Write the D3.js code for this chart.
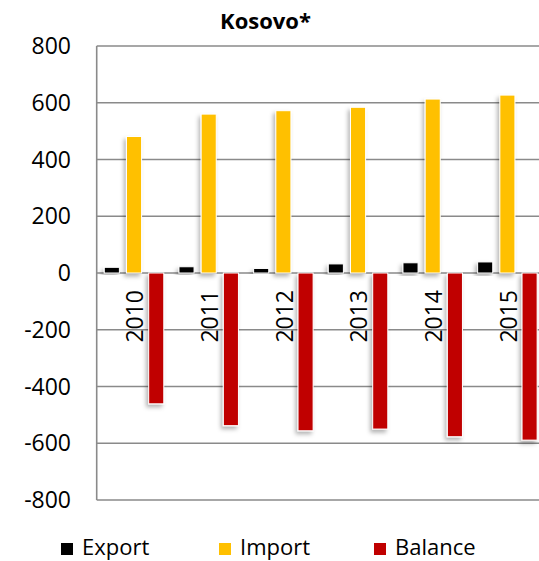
<!DOCTYPE html>
<html>
<head>
<meta charset="utf-8">
<script src="https://cdn.jsdelivr.net/npm/d3@7"></script>
<style>
  body { margin: 0; background: #fff; }
  text { font-family: "Open Sans", "Liberation Sans", sans-serif; fill: #000; }
</style>
</head>
<body>
<div id="chart-area"></div>
<script>

var years = ["2010", "2011", "2012", "2013", "2014", "2015"];
var seriesNames = ["Export", "Import", "Balance"];
var seriesColors = ["#000000", "#FFC000", "#C00000"];
var exportVals = [20, 22, 16, 32, 36, 39];
var importVals = [481, 560, 572, 584, 613, 627];
var balanceVals = [-461, -538, -556, -550, -577, -589];
var yTicks = [-800, -600, -400, -200, 0, 200, 400, 600, 800];

var seriesVals = [exportVals, importVals, balanceVals];

var width = 539, height = 561;
var plotLeft = 96.7, step = 74.67;

var svg = d3.select("#chart-area")
    .append("svg")
        .attr("width", width)
        .attr("height", height);

// soft shadow used on the bars
var defs = svg.append("defs");
var f = defs.append("filter").attr("id", "shadow")
    .attr("x", "-50%").attr("y", "-20%").attr("width", "200%").attr("height", "140%");
f.append("feDropShadow")
    .attr("dx", -2).attr("dy", 3).attr("stdDeviation", 2)
    .attr("flood-color", "#000").attr("flood-opacity", 0.3);

var x0 = d3.scaleBand()
    .domain(years)
    .range([plotLeft, plotLeft + step * years.length]);

var x1 = d3.scaleBand()
    .domain(seriesNames)
    .range([-33.3, 33.3])
    .paddingInner(0.32)
    .paddingOuter(0.16);

var yScale = d3.scaleLinear().domain([-800, 800]).range([500, 46]);

// gridlines
svg.append("g").selectAll("line")
    .data(yTicks)
    .enter().append("line")
        .attr("x1", plotLeft)
        .attr("x2", x0.range()[1])
        .attr("y1", function(d) { return yScale(d); })
        .attr("y2", function(d) { return yScale(d); })
        .attr("stroke", "#8a8a8a")
        .attr("stroke-width", 1.6);

svg.append("line")
    .attr("x1", plotLeft).attr("x2", plotLeft)
    .attr("y1", yScale(800)).attr("y2", yScale(-800))
    .attr("stroke", "#8a8a8a")
    .attr("stroke-width", 1.6);

// y tick labels
svg.append("g").selectAll("text")
    .data(yTicks)
    .enter().append("text")
        .attr("x", 71)
        .attr("y", function(d) { return yScale(d); })
        .attr("dy", "0.35em")
        .attr("text-anchor", "end")
        .style("font-size", "23px")
        .text(function(d) { return d; });

// bars
var groups = svg.append("g").selectAll("g")
    .data(years)
    .enter().append("g")
        .attr("transform", function(d) { return "translate(" + (x0(d) + x0.bandwidth() / 2) + ",0)"; });

groups.selectAll("rect")
    .data(function(d, i) {
        return seriesNames.map(function(s, j) { return {name: s, value: seriesVals[j][i], color: seriesColors[j]}; });
    })
    .enter().append("rect")
        .attr("x", function(d) { return x1(d.name); })
        .attr("width", x1.bandwidth())
        .attr("y", function(d) { return yScale(Math.max(0, d.value)); })
        .attr("height", function(d) { return Math.abs(yScale(d.value) - yScale(0)); })
        .attr("fill", function(d) { return d.color; })
        .attr("stroke", "#fff")
        .attr("stroke-width", 1)
        .attr("filter", "url(#shadow)");

// year labels, rotated
svg.append("g").selectAll("text")
    .data(years)
    .enter().append("text")
        .attr("transform", function(d) { return "translate(" + (x0(d) + x0.bandwidth() / 2) + ",290) rotate(-90)"; })
        .attr("text-anchor", "end")
        .attr("dy", "0.4em")
        .style("font-size", "23px")
        .text(function(d) { return d; });

// title
svg.append("text")
    .attr("x", 265.5)
    .attr("y", 29)
    .attr("text-anchor", "middle")
    .style("font-size", "22px")
    .style("font-weight", "bold")
    .text("Kosovo*");

// legend
var legendX = [61, 219, 374];
var legend = svg.append("g").selectAll("g")
    .data(seriesNames)
    .enter().append("g")
        .attr("transform", function(d, i) { return "translate(" + legendX[i] + ",0)"; });

legend.append("rect")
    .attr("x", 0).attr("y", 543)
    .attr("width", 12).attr("height", 12)
    .attr("fill", function(d, i) { return seriesColors[i]; });

legend.append("text")
    .attr("x", 21)
    .attr("y", 555)
    .style("font-size", "22px")
    .text(function(d) { return d; });

</script>
</body>
</html>
